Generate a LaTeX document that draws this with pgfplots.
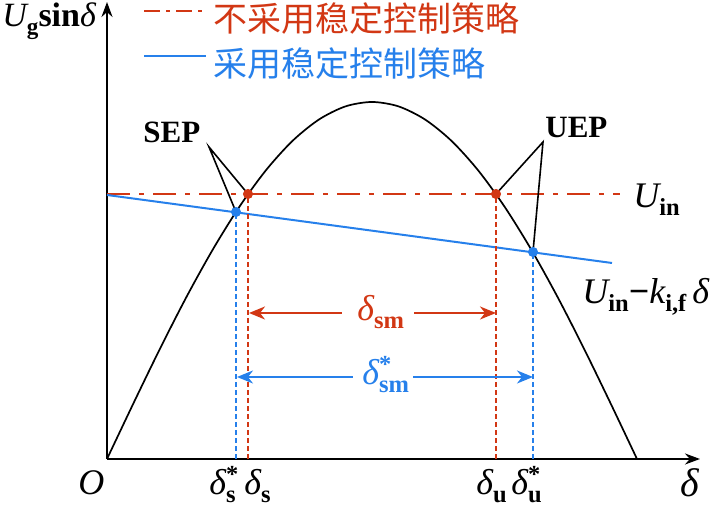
\documentclass[border=0pt]{standalone}
\usepackage{pgfplots}
\pgfplotsset{compat=1.18}
\usetikzlibrary{arrows.meta}
\usepackage{fontspec}
\setmainfont{Liberation Serif}
\newfontfamily\cjk{Noto Sans CJK SC}

\definecolor{myred}{RGB}{210,55,20}
\definecolor{myblue}{RGB}{38,128,235}

% italic variable, small subscript, starred delta
\newcommand{\I}[1]{{\mdseries\itshape #1}}
\newcommand{\sub}[1]{\raisebox{-0.22em}{\scalebox{0.68}{#1}}}
\newcommand{\dst}[1]{\I{δ}\makebox[0pt][l]{\raisebox{0.36em}{\scalebox{0.68}{*}}}\sub{#1}}
\newcommand{\lab}{\bfseries\fontsize{18}{18}\selectfont}

\begin{document}
\begin{tikzpicture}
\useasboundingbox (-53.5pt,-23.5pt) rectangle (302pt,229.5pt);
\begin{axis}[
    x=0.5pt, y=0.5pt,
    xmin=0, xmax=593, ymin=0, ymax=457,
    enlargelimits=false,
    axis lines=middle,
    axis line style={line width=1pt, -{Stealth[length=7.5pt,width=5.5pt]}},
    xtick=\empty, ytick=\empty,
    clip=false,
    legend cell align=left,
    legend style={draw=none, fill=none, at={(axis cs:36,457)}, anchor=north west,
        inner sep=0pt, row sep=7pt, column sep=3pt,
        font=\cjk\fontsize{17}{17}\selectfont,
        nodes={inner sep=0pt}},
]
% power angle curve
\addplot[black, line width=0.85pt, smooth, forget plot] coordinates {
    (0,0) (26.5,55.8) (53,110.3) (79.5,162.1) (106,209.8) (132.5,252.4)
    (159,288.8) (185.5,318.1) (212,339.5) (238.5,352.6) (265,357)
    (291.5,352.6) (318,339.5) (344.5,318.1) (371,288.8) (397.5,252.4)
    (424,209.8) (450.5,162.1) (477,110.3) (503.5,55.8) (530,0)};
% without control
\addplot[myred, line width=1pt, dash pattern=on 11.5pt off 4.5pt on 2.5pt off 4.5pt,
    legend image code/.code={\draw[myred, line width=1pt,
        dash pattern=on 8pt off 3pt on 2pt off 3pt] (0pt,0.38em) -- (31pt,0.38em);}]
    coordinates {(0,265) (513,265)};
\addlegendentry{\textcolor{myred}{不采用稳定控制策略}}
% with control
\addplot[myblue, line width=1pt,
    legend image code/.code={\draw[myblue, line width=1pt] (0pt,0.38em) -- (31pt,0.38em);}]
    coordinates {(0,264) (505,196)};
\addlegendentry{\textcolor{myblue}{采用稳定控制策略}}
% vertical dashed guides
\addplot[myred, line width=1pt, dash pattern=on 2.5pt off 1.5pt, forget plot] coordinates {(141,0) (141,265)};
\addplot[myred, line width=1pt, dash pattern=on 2.5pt off 1.5pt, forget plot] coordinates {(389,0) (389,265)};
\addplot[myblue, line width=1pt, dash pattern=on 2.5pt off 1.5pt, forget plot] coordinates {(129,0) (129,247)};
\addplot[myblue, line width=1pt, dash pattern=on 2.5pt off 1.5pt, forget plot] coordinates {(426,0) (426,207)};
% equilibrium points
\addplot[only marks, mark=*, mark size=2.3pt, color=myred, forget plot] coordinates {(141,265) (389,265)};
\addplot[only marks, mark=*, mark size=2.3pt, color=myblue, forget plot] coordinates {(129,247) (426,207)};
% SEP / UEP leaders
\addplot[black, line width=0.8pt, forget plot] coordinates {(141,265) (102,312) (129,247)};
\addplot[black, line width=0.8pt, forget plot] coordinates {(389,265) (436,317) (426,207)};
% stability margins
\addplot[myred, line width=1pt, {Stealth[length=8pt,width=6.5pt,inset=2.5pt]}-, forget plot] coordinates {(142,146) (235,146)};
\addplot[myred, line width=1pt, -{Stealth[length=8pt,width=6.5pt,inset=2.5pt]}, forget plot] coordinates {(307,146) (389,146)};
\addplot[myblue, line width=1pt, {Stealth[length=8pt,width=6.5pt,inset=2.5pt]}-, forget plot] coordinates {(130,82) (246,82)};
\addplot[myblue, line width=1pt, -{Stealth[length=8pt,width=6.5pt,inset=2.5pt]}, forget plot] coordinates {(306,82) (426,82)};

% labels
\node[anchor=base west, inner sep=0pt, font=\bfseries\fontsize{17}{17}\selectfont] at (axis cs:-105,432)
    {\I{U}\sub{g}sin\I{δ}};
\node[anchor=base west, inner sep=0pt, font=\bfseries\fontsize{15.5}{15.5}\selectfont] at (axis cs:36,316) {SEP};
\node[anchor=base west, inner sep=0pt, font=\bfseries\fontsize{15.5}{15.5}\selectfont] at (axis cs:438,321) {UEP};
\node[anchor=base west, inner sep=0pt, font=\lab] at (axis cs:526,251) {\I{U}\sub{in}};
\node[anchor=base west, inner sep=0pt, font=\lab] at (axis cs:475,155) {\I{U}\sub{in}−\I{k}\sub{i,f}\,\I{δ}};
\node[anchor=base west, inner sep=0pt, font=\lab, text=myred] at (axis cs:250,138) {\I{δ}\sub{sm}};
\node[anchor=base west, inner sep=0pt, font=\lab, text=myblue] at (axis cs:255,74) {\dst{sm}};
\node[anchor=base west, inner sep=0pt, font=\bfseries\fontsize{18}{18}\selectfont] at (axis cs:-29,-36) {\I{O}};
\node[anchor=base west, inner sep=0pt, font=\lab] at (axis cs:102,-36) {\dst{s}};
\node[anchor=base west, inner sep=0pt, font=\lab] at (axis cs:137,-36) {\I{δ}\sub{s}};
\node[anchor=base west, inner sep=0pt, font=\lab] at (axis cs:369,-36) {\I{δ}\sub{u}};
\node[anchor=base west, inner sep=0pt, font=\lab] at (axis cs:404,-36) {\dst{u}};
\node[anchor=base west, inner sep=0pt, font=\fontsize{20}{20}\selectfont] at (axis cs:573,-38) {\I{δ}};
\end{axis}
\end{tikzpicture}
\end{document}
